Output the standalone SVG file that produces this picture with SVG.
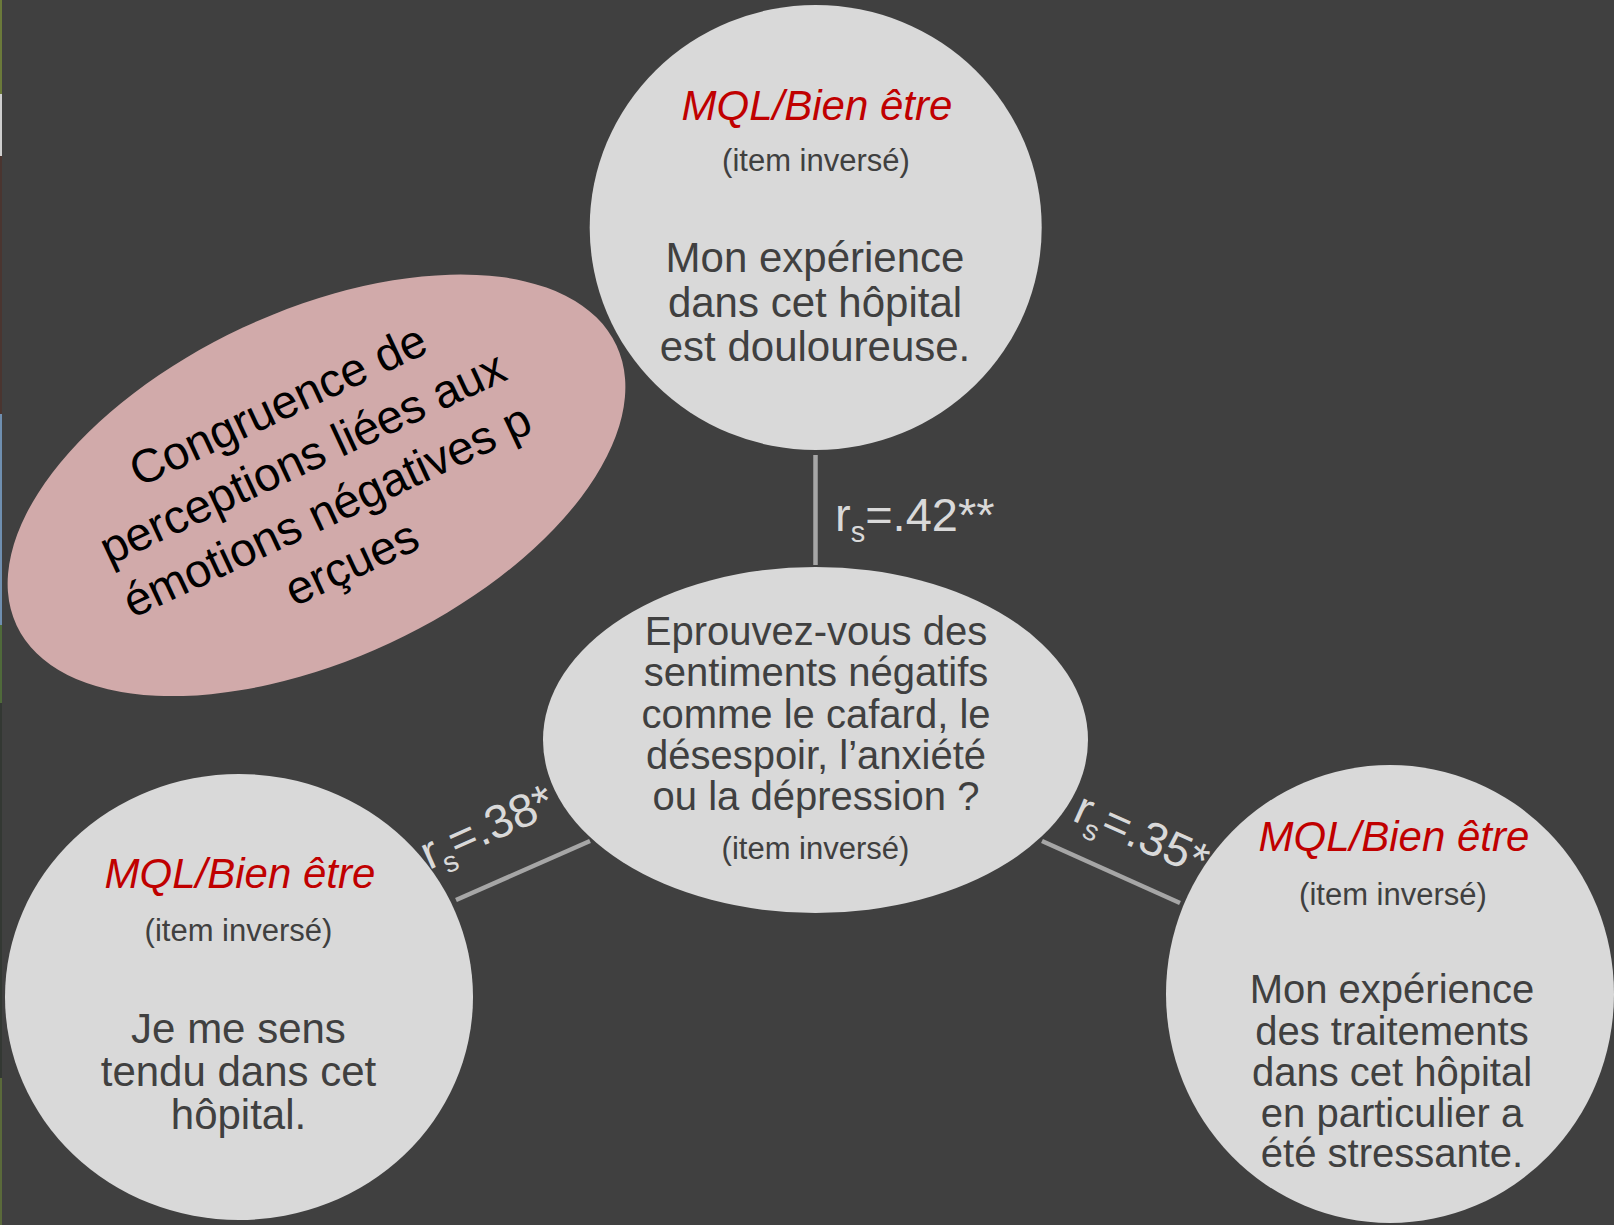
<svg xmlns="http://www.w3.org/2000/svg" width="1614" height="1225" viewBox="0 0 1614 1225">
<style>
.node{fill:#d9d9d9}
.t{font-family:"Liberation Sans",Arial,sans-serif;text-anchor:middle;fill:#404040}
.red{font-style:italic;fill:#c00000;font-size:42px}
.item{font-size:31px}
.b42{font-size:42px}
.b40{font-size:40px}
.lbl{font-family:"Liberation Sans",Arial,sans-serif;fill:#d9d9d9;font-size:47px}
.sub{font-size:29px}
.conn{stroke:#a6a6a6;stroke-width:4.5;fill:none}
</style>
<rect width="1614" height="1225" fill="#404040"/>
<g id="edge-strip">
<rect x="0" y="0" width="2" height="94" fill="#6b7a3a"/>
<rect x="0" y="94" width="2" height="62" fill="#cfcfcf"/>
<rect x="0" y="156" width="2" height="258" fill="#4a3530"/>
<rect x="0" y="414" width="2" height="211" fill="#6f8fb0"/>
<rect x="0" y="625" width="2" height="78" fill="#4f6a3a"/>
<rect x="0" y="703" width="2" height="375" fill="#333833"/>
<rect x="0" y="1078" width="2" height="147" fill="#5a6a3a"/>
</g>
<g id="connectors">
<line class="conn" x1="815.5" y1="455" x2="815.5" y2="565"/>
<line class="conn" x1="456" y1="900" x2="590" y2="841"/>
<line class="conn" x1="1042" y1="841" x2="1180" y2="903"/>
<text class="lbl" x="835" y="531">r<tspan class="sub" dy="11">s</tspan><tspan dy="-11">=.42**</tspan></text>
<text class="lbl" transform="translate(429,870) rotate(-24)" x="0" y="0">r<tspan class="sub" dy="11">s</tspan><tspan dy="-11">=.38*</tspan></text>
<text class="lbl" transform="translate(1071,820) rotate(24)" x="0" y="0">r<tspan class="sub" dy="11">s</tspan><tspan dy="-11">=.35*</tspan></text>
</g>
<g id="congruence">
<ellipse cx="316.5" cy="485.3" rx="331" ry="174" transform="rotate(-25 316.5 485.3)" fill="#d1aaaa"/>
<g transform="translate(316.5,485.3) rotate(-25)" font-family="'Liberation Sans',Arial,sans-serif" font-size="47" fill="#000" text-anchor="middle">
<text x="-1" y="-73">Congruence de</text>
<text x="-1" y="-15">perceptions liées aux</text>
<text x="-1" y="43">émotions négatives p</text>
<text x="-1" y="101">erçues</text>
</g>
</g>
<g id="top">
<ellipse class="node" cx="815.7" cy="227.5" rx="226" ry="222.5"/>
<text class="t red" x="817" y="120">MQL/Bien être</text>
<text class="t item" x="816" y="171">(item inversé)</text>
<text class="t b42" x="815" y="272">Mon expérience</text>
<text class="t b42" x="815" y="316.5">dans cet hôpital</text>
<text class="t b42" x="815" y="361">est douloureuse.</text>
</g>
<g id="center">
<ellipse class="node" cx="815.5" cy="740" rx="272.5" ry="173"/>
<text class="t b40" x="816" y="645">Eprouvez-vous des</text>
<text class="t b40" x="816" y="686">sentiments négatifs</text>
<text class="t b40" x="816" y="727.5">comme le cafard, le</text>
<text class="t b40" x="816" y="769">désespoir, l’anxiété</text>
<text class="t b40" x="816" y="810">ou la dépression ?</text>
<text class="t item" x="815.5" y="859">(item inversé)</text>
</g>
<g id="bottom-left">
<ellipse class="node" cx="239" cy="997" rx="234" ry="223"/>
<text class="t red" x="240" y="888">MQL/Bien être</text>
<text class="t item" x="238.5" y="941">(item inversé)</text>
<text class="t b42" x="238.5" y="1043">Je me sens</text>
<text class="t b42" x="238.5" y="1086">tendu dans cet</text>
<text class="t b42" x="238.5" y="1129">hôpital.</text>
</g>
<g id="bottom-right">
<ellipse class="node" cx="1390" cy="994" rx="224" ry="229"/>
<text class="t red" x="1394" y="851">MQL/Bien être</text>
<text class="t item" x="1393" y="905">(item inversé)</text>
<text class="t b40" x="1392" y="1003">Mon expérience</text>
<text class="t b40" x="1392" y="1044.5">des traitements</text>
<text class="t b40" x="1392" y="1085.5">dans cet hôpital</text>
<text class="t b40" x="1392" y="1126.5">en particulier a</text>
<text class="t b40" x="1392" y="1167">été stressante.</text>
</g>
</svg>
